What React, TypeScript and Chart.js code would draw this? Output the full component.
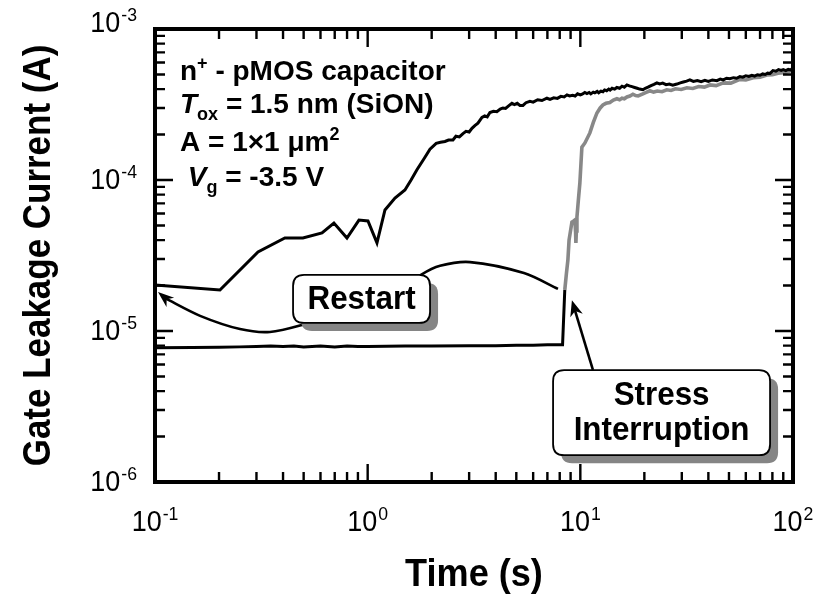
import React, { useEffect, useRef } from "react";
import { Chart, registerables } from "chart.js";

Chart.register(...registerables);

// ---- axes ----
const X_MIN = 0.1;
const X_MAX = 100;
const Y_MIN = 1e-6;
const Y_MAX = 1e-3;
const xTickExps = [-1, 0, 1, 2];
const yTickExps = [-6, -5, -4, -3];

// ---- first stress (black, low level, then breakdown step) ----
const firstT = [0.1, 0.15, 0.2, 0.25, 0.3, 0.35, 0.4, 0.45, 0.5, 0.6, 0.7, 0.8, 0.9, 1.0, 1.5, 2, 3, 4, 5, 6, 7, 8.0, 8.25, 8.45];
const firstI = [7.75e-6, 7.78e-6, 7.8e-6, 7.85e-6, 7.9e-6, 7.95e-6, 7.9e-6, 7.95e-6, 7.85e-6, 7.95e-6, 7.85e-6, 7.95e-6, 7.9e-6, 7.9e-6, 7.95e-6, 7.95e-6, 8.0e-6, 8.0e-6, 8.05e-6, 8.05e-6, 8.1e-6, 8.1e-6, 8.1e-6, 1.87e-5];

// ---- continuation of first stress (gray) ----
const contT = [8.45, 8.6, 8.74, 8.85, 9.13, 9.3, 9.43, 9.5, 9.53, 9.58, 9.64, 9.8, 9.95, 10.17, 10.51, 11.09, 11.5, 11.97, 12.4, 12.77, 13.2, 13.77, 14.3, 14.86, 15.3, 15.7, 16.1, 16.56, 17.1, 17.67, 18.2, 18.7, 19.2, 19.69, 20.4, 21.25, 22.1, 23, 24.2, 25.5, 26.7, 28, 29.8, 31.7, 33.8, 36, 38.3, 40.7, 43.5, 47, 51, 56.3, 60, 65, 70, 75.4, 80, 85, 90, 96.7, 100];
const contI = [1.87e-5, 2.4e-5, 2.95e-5, 4.0e-5, 5.27e-5, 5.35e-5, 5.43e-5, 4.5e-5, 3.83e-5, 4.6e-5, 5.69e-5, 7.5e-5, 9.55e-5, 1.65e-4, 1.76e-4, 2.05e-4, 2.4e-4, 2.78e-4, 3.0e-4, 3.14e-4, 3.22e-4, 3.26e-4, 3.38e-4, 3.45e-4, 3.4e-4, 3.48e-4, 3.45e-4, 3.55e-4, 3.6e-4, 3.7e-4, 3.62e-4, 3.6e-4, 3.66e-4, 3.72e-4, 3.8e-4, 3.9e-4, 3.82e-4, 3.88e-4, 3.84e-4, 3.96e-4, 3.92e-4, 4.02e-4, 3.98e-4, 4.08e-4, 4.04e-4, 4.16e-4, 4.12e-4, 4.26e-4, 4.22e-4, 4.4e-4, 4.38e-4, 4.64e-4, 4.6e-4, 4.76e-4, 4.8e-4, 4.96e-4, 4.98e-4, 5.1e-4, 5.14e-4, 5.27e-4, 5.5e-4];

// ---- restart (black) ----
const restartT = [0.1, 0.202, 0.305, 0.408, 0.496, 0.61, 0.694, 0.799, 0.91, 1.003, 1.106, 1.206, 1.344, 1.497, 1.6, 1.705, 1.85, 1.963, 2.1, 2.2, 2.309, 2.4, 2.518, 2.6, 2.7, 2.806, 2.9, 3.0, 3.093, 3.2, 3.3, 3.447, 3.55, 3.65, 3.758, 3.9, 4.05, 4.2, 4.327, 4.45, 4.6, 4.767, 4.9, 5.05, 5.2, 5.373, 5.55, 5.794, 6.0, 6.3, 6.6, 6.966, 7.2, 7.5, 7.8, 8.1, 8.4, 8.65, 8.9, 9.2, 9.45, 9.7, 10.0, 10.2, 10.5, 10.74, 11.0, 11.2, 11.5, 11.7, 12.0, 12.2, 12.5, 12.77, 13.0, 13.3, 13.6, 13.8, 14.1, 14.5, 14.86, 15.3, 15.7, 16.1, 16.56, 17.0, 17.5, 18.0, 18.5, 19.0, 19.69, 20.2, 20.8, 21.5, 22.2, 22.91, 23.6, 24.4, 25.3, 26.2, 27.2, 28.45, 29.5, 30.5, 31.6, 32.74, 34, 35.5, 37, 38.5, 40, 41.8, 43.86, 45.5, 47, 48.7, 50.5, 52.5, 54.3, 56.26, 58, 60, 62, 64, 66, 68, 70, 72, 74, 76, 78, 80.5, 83, 85.5, 88, 90, 92.5, 95, 97.5, 100];
const restartI = [2.02e-5, 1.87e-5, 3.34e-5, 4.13e-5, 4.13e-5, 4.46e-5, 5.19e-5, 4.13e-5, 5.43e-5, 5.35e-5, 3.83e-5, 6.33e-5, 7.6e-5, 8.59e-5, 1.0e-4, 1.17e-4, 1.4e-4, 1.6e-4, 1.75e-4, 1.78e-4, 1.8e-4, 1.84e-4, 1.84e-4, 1.95e-4, 1.93e-4, 2.03e-4, 2.1e-4, 2.08e-4, 2.2e-4, 2.3e-4, 2.38e-4, 2.6e-4, 2.66e-4, 2.62e-4, 2.8e-4, 2.85e-4, 2.83e-4, 2.95e-4, 3.0e-4, 2.98e-4, 3.1e-4, 3.22e-4, 3.16e-4, 3.22e-4, 3.12e-4, 3.12e-4, 3.25e-4, 3.32e-4, 3.28e-4, 3.4e-4, 3.36e-4, 3.48e-4, 3.42e-4, 3.5e-4, 3.47e-4, 3.58e-4, 3.55e-4, 3.66e-4, 3.6e-4, 3.64e-4, 3.6e-4, 3.72e-4, 3.66e-4, 3.7e-4, 3.8e-4, 3.74e-4, 3.8e-4, 3.72e-4, 3.82e-4, 3.78e-4, 3.86e-4, 3.78e-4, 3.88e-4, 3.84e-4, 3.95e-4, 3.9e-4, 4.0e-4, 3.94e-4, 4.05e-4, 4.0e-4, 4.1e-4, 4.05e-4, 4.18e-4, 4.12e-4, 4.26e-4, 4.2e-4, 4.15e-4, 4.1e-4, 4.05e-4, 4.0e-4, 3.96e-4, 4.05e-4, 4.12e-4, 4.22e-4, 4.3e-4, 4.4e-4, 4.33e-4, 4.38e-4, 4.28e-4, 4.32e-4, 4.24e-4, 4.32e-4, 4.4e-4, 4.46e-4, 4.52e-4, 4.6e-4, 4.5e-4, 4.56e-4, 4.48e-4, 4.57e-4, 4.5e-4, 4.6e-4, 4.55e-4, 4.66e-4, 4.6e-4, 4.72e-4, 4.68e-4, 4.76e-4, 4.72e-4, 4.84e-4, 4.8e-4, 4.9e-4, 4.85e-4, 4.93e-4, 4.88e-4, 4.98e-4, 4.94e-4, 5.04e-4, 5.0e-4, 5.1e-4, 5.08e-4, 5.3e-4, 5.25e-4, 5.38e-4, 5.32e-4, 5.38e-4, 5.3e-4, 5.4e-4, 5.36e-4, 5.45e-4];

// ---- annotation geometry (data coordinates) ----
const restartArrowT = [7.85, 5.43, 3.03, 2.19, 1.78, 1.2, 0.496, 0.347, 0.251, 0.163, 0.1114];
const restartArrowI = [1.9e-5, 2.42e-5, 2.86e-5, 2.7e-5, 2.35e-5, 1.6e-5, 1.1e-5, 9.85e-6, 1.03e-5, 1.26e-5, 1.65e-5];
const restartArrowTip = [0.1033, 1.81e-5];
const stressArrowT = [11.46, 9.13];
const stressArrowI = [5.52e-6, 1.6e-5];
const restartBoxAt = [0.936, 1.63e-5];
const stressBoxAt = [24.1, 2.88e-6];

const restartLabel = ["Restart"];
const stressLabel = ["Stress", "Interruption"];
const xTitle = "Time (s)";
const yTitle = "Gate Leakage Current (A)";

const FAM = '"Liberation Sans", Arial, Helvetica, sans-serif';
const font = (size: number, bold: boolean, italic = false) =>
  `${italic ? "italic " : ""}${bold ? "bold " : ""}${size}px ${FAM}`;

type Seg = { t: string; it?: boolean; sup?: boolean; sub?: boolean };
const infoLines: Seg[][] = [
  [{ t: "n" }, { t: "+", sup: true }, { t: " - pMOS capacitor" }],
  [{ t: "T", it: true }, { t: "ox", sub: true }, { t: " = 1.5 nm (SiON)" }],
  [{ t: "A = 1\u00d71 \u03bcm" }, { t: "2", sup: true }],
  [{ t: " " }, { t: "V", it: true }, { t: "g", sub: true }, { t: " = -3.5 V" }],
];

// draw text horizontally condensed by factor sx, anchored at x according to align
function textSX(ctx: CanvasRenderingContext2D, s: string, x: number, y: number, sx: number, align: "left" | "center" | "right") {
  ctx.save();
  ctx.translate(x, y);
  ctx.scale(sx, 1);
  ctx.textAlign = align;
  ctx.fillText(s, 0, 0);
  ctx.restore();
}

function drawRich(ctx: CanvasRenderingContext2D, x: number, y: number, segs: Seg[], size: number) {
  let cx = x;
  ctx.textBaseline = "alphabetic";
  for (const s of segs) {
    const sz = s.sup || s.sub ? Math.round(size * 0.66) : size;
    ctx.font = font(sz, true, !!s.it);
    const dy = s.sup ? -size * 0.38 : s.sub ? size * 0.25 : 0;
    textSX(ctx, s.t, cx, y + dy, 1, "left");
    cx += ctx.measureText(s.t).width;
  }
}

function drawPow(ctx: CanvasRenderingContext2D, exp: number, x: number, baseY: number, align: "right" | "center") {
  const size = 29;
  const sup = 19;
  const sx = 0.93;
  ctx.font = font(size, false);
  const wb = ctx.measureText("10").width * sx;
  ctx.font = font(sup, false);
  const es = String(exp);
  const we = ctx.measureText(es).width * sx;
  const total = wb + we + 1;
  const x0 = align === "right" ? x - total : x - total / 2;
  ctx.textBaseline = "alphabetic";
  ctx.fillStyle = "#000";
  ctx.font = font(size, false);
  textSX(ctx, "10", x0, baseY, sx, "left");
  ctx.font = font(sup, false);
  textSX(ctx, es, x0 + wb + 1, baseY - 11, sx, "left");
}

function roundRect(ctx: CanvasRenderingContext2D, x: number, y: number, w: number, h: number, r: number) {
  ctx.beginPath();
  ctx.moveTo(x + r, y);
  ctx.lineTo(x + w - r, y);
  ctx.quadraticCurveTo(x + w, y, x + w, y + r);
  ctx.lineTo(x + w, y + h - r);
  ctx.quadraticCurveTo(x + w, y + h, x + w - r, y + h);
  ctx.lineTo(x + r, y + h);
  ctx.quadraticCurveTo(x, y + h, x, y + h - r);
  ctx.lineTo(x, y + r);
  ctx.quadraticCurveTo(x, y, x + r, y);
  ctx.closePath();
}

function drawBox(ctx: CanvasRenderingContext2D, cx: number, cy: number, w: number, h: number, lines: string[], fsize: number, lh: number) {
  const x = cx - w / 2;
  const y = cy - h / 2;
  ctx.fillStyle = "#858585";
  roundRect(ctx, x + 8, y + 8, w, h, 11);
  ctx.fill();
  ctx.fillStyle = "#fff";
  roundRect(ctx, x, y, w, h, 11);
  ctx.fill();
  ctx.strokeStyle = "#000";
  ctx.lineWidth = 1.8;
  ctx.stroke();
  ctx.fillStyle = "#000";
  ctx.font = font(fsize, true);
  ctx.textBaseline = "middle";
  const n = lines.length;
  lines.forEach((l, i) => {
    textSX(ctx, l, cx, cy + (i - (n - 1) / 2) * lh + 1, 0.95, "center");
  });
}

function arrowHead(ctx: CanvasRenderingContext2D, tipX: number, tipY: number, fromX: number, fromY: number, len: number, wid: number) {
  const a = Math.atan2(tipY - fromY, tipX - fromX);
  const bx = tipX - len * Math.cos(a);
  const by = tipY - len * Math.sin(a);
  const px = -Math.sin(a) * wid / 2;
  const py = Math.cos(a) * wid / 2;
  ctx.beginPath();
  ctx.moveTo(tipX, tipY);
  ctx.lineTo(bx + px, by + py);
  ctx.lineTo(tipX - len * 0.7 * Math.cos(a), tipY - len * 0.7 * Math.sin(a));
  ctx.lineTo(bx - px, by - py);
  ctx.closePath();
  ctx.fill();
}

const decorPlugin = {
  id: "decor",
  afterDatasetsDraw(chart: any) {
    const ctx: CanvasRenderingContext2D = chart.ctx;
    const xs = chart.scales.x;
    const ys = chart.scales.y;
    const X = (v: number) => xs.getPixelForValue(v);
    const Y = (v: number) => ys.getPixelForValue(v);
    const ca = chart.chartArea;
    ctx.save();

    // restart arrow head
    const n = restartArrowT.length;
    ctx.fillStyle = "#000";
    arrowHead(ctx, X(restartArrowTip[0]), Y(restartArrowTip[1]), X(restartArrowT[n - 1]) + 4, Y(restartArrowI[n - 1]) + 3, 16, 12);

    // stress arrow
    const sx0 = X(stressArrowT[0]);
    const sy0 = Y(stressArrowI[0]);
    const sx1 = X(stressArrowT[1]);
    const sy1 = Y(stressArrowI[1]);
    const a = Math.atan2(sy1 - sy0, sx1 - sx0);
    ctx.strokeStyle = "#000";
    ctx.lineWidth = 2.6;
    ctx.beginPath();
    ctx.moveTo(sx0, sy0);
    ctx.lineTo(sx1 - 10 * Math.cos(a), sy1 - 10 * Math.sin(a));
    ctx.stroke();
    arrowHead(ctx, sx1, sy1, sx0, sy0, 16, 13);

    // boxes
    drawBox(ctx, X(restartBoxAt[0]), Y(restartBoxAt[1]), 137, 48, restartLabel, 33, 34);
    drawBox(ctx, X(stressBoxAt[0]), Y(stressBoxAt[1]), 217, 85, stressLabel, 33, 35);

    // info text
    ctx.fillStyle = "#000";
    const baselines = [80, 113, 151, 186];
    infoLines.forEach((segs, i) => drawRich(ctx, ca.left + 25, baselines[i], segs, 28));

    // frame
    ctx.strokeStyle = "#000";
    ctx.lineWidth = 4;
    ctx.strokeRect(ca.left, ca.top, ca.right - ca.left, ca.bottom - ca.top);

    // ticks
    ctx.lineWidth = 2.4;
    ctx.beginPath();
    for (let e = -1; e <= 2; e++) {
      for (let m = 1; m <= 9; m++) {
        const v = m * Math.pow(10, e);
        if (v > X_MAX * 1.0001) break;
        const px = X(v);
        const L = m === 1 ? 18 : 10;
        ctx.moveTo(px, ca.bottom);
        ctx.lineTo(px, ca.bottom - L);
        ctx.moveTo(px, ca.top);
        ctx.lineTo(px, ca.top + L);
      }
    }
    for (let e = -6; e <= -3; e++) {
      for (let m = 1; m <= 9; m++) {
        const v = m * Math.pow(10, e);
        if (v > Y_MAX * 1.0001) break;
        const py = Y(v);
        const L = m === 1 ? 18 : 10;
        ctx.moveTo(ca.left, py);
        ctx.lineTo(ca.left + L, py);
        ctx.moveTo(ca.right, py);
        ctx.lineTo(ca.right - L, py);
      }
    }
    ctx.stroke();

    // tick labels
    xTickExps.forEach((e) => drawPow(ctx, e, X(Math.pow(10, e)), ca.bottom + 49, "center"));
    yTickExps.forEach((e) => {
      const py = Y(Math.pow(10, e));
      drawPow(ctx, e, ca.left - 18, py + (e === -3 ? 3 : 9), "right");
    });

    // titles
    ctx.fillStyle = "#000";
    ctx.font = font(38, true);
    ctx.textBaseline = "middle";
    textSX(ctx, xTitle, (ca.left + ca.right) / 2, ca.bottom + 94, 0.95, "center");
    ctx.save();
    ctx.translate(40, (ca.top + ca.bottom) / 2);
    ctx.rotate(-Math.PI / 2);
    textSX(ctx, yTitle, 0, 0, 0.92, "center");
    ctx.restore();

    ctx.restore();
  },
};

const pts = (t: number[], v: number[]) => t.map((x, i) => ({ x, y: v[i] }));

export default function App() {
  const ref = useRef<HTMLCanvasElement | null>(null);
  useEffect(() => {
    if (!ref.current) return;
    const chart = new Chart(ref.current, {
      type: "scatter",
      data: {
        datasets: [
          { data: pts(restartT, restartI), showLine: true, borderColor: "#000", borderWidth: 3, pointRadius: 0, tension: 0 },
          { data: pts(contT, contI), showLine: true, borderColor: "#888", borderWidth: 3.6, pointRadius: 0, tension: 0 },
          { data: pts(firstT, firstI), showLine: true, borderColor: "#000", borderWidth: 3, pointRadius: 0, tension: 0 },
          { data: pts(restartArrowT, restartArrowI), showLine: true, borderColor: "#000", borderWidth: 2.6, pointRadius: 0, tension: 0.3 },
        ],
      },
      options: {
        responsive: false,
        animation: false,
        devicePixelRatio: 1,
        layout: { padding: { left: 155, top: 29, right: 31, bottom: 125 } },
        plugins: { legend: { display: false }, tooltip: { enabled: false } },
        scales: {
          x: { type: "logarithmic", min: X_MIN, max: X_MAX, display: false },
          y: { type: "logarithmic", min: Y_MIN, max: Y_MAX, display: false },
        },
      },
      plugins: [decorPlugin],
    } as any);
    return () => chart.destroy();
  }, []);
  return (
    <div style={{ position: "fixed", left: 0, top: 0, width: 824, height: 607, background: "#fff" }}>
      <canvas ref={ref} width={824} height={607} style={{ width: 824, height: 607 }} />
    </div>
  );
}
